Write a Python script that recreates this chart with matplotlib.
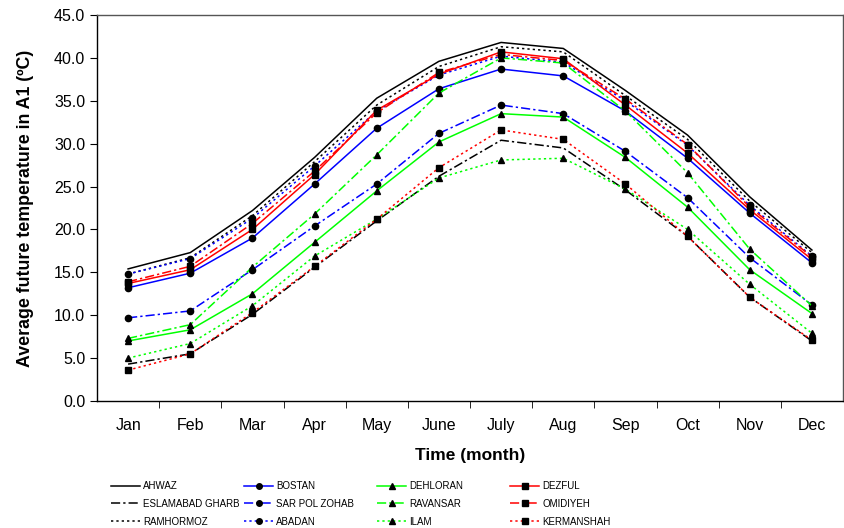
#!/usr/bin/env python3
import matplotlib
matplotlib.use("Agg")
import matplotlib.pyplot as plt
from matplotlib.lines import Line2D

plt.rcParams['font.family'] = ['Liberation Sans', 'DejaVu Sans']

months = ["Jan", "Feb", "Mar", "Apr", "May", "June", "July", "Aug", "Sep", "Oct", "Nov", "Dec"]

# Average future temperature (A1 scenario)
ahwaz = [15.4, 17.3, 22.2, 28.4, 35.3, 39.6, 41.8, 41.1, 36.2, 31.0, 23.8, 17.6]
bostan = [13.2, 14.9, 19.0, 25.3, 31.8, 36.4, 38.7, 37.9, 33.8, 28.3, 21.9, 16.1]
dehloran = [7.0, 8.3, 12.5, 18.5, 24.5, 30.2, 33.5, 33.1, 28.4, 22.6, 15.3, 10.2]
dezful = [13.7, 15.3, 20.0, 26.4, 33.9, 38.1, 40.7, 39.9, 34.5, 28.9, 22.3, 16.5]
eslamabad = [4.3, 5.5, 10.1, 15.6, 21.0, 26.2, 30.4, 29.5, 24.6, 19.2, 12.1, 7.0]
sarpol = [9.7, 10.5, 15.3, 20.4, 25.3, 31.2, 34.5, 33.5, 29.1, 23.7, 16.7, 11.2]
ravansar = [7.3, 8.9, 15.6, 21.8, 28.7, 35.9, 40.0, 39.4, 33.8, 26.6, 17.7, 11.1]
omidiyeh = [13.9, 15.7, 20.7, 26.8, 33.6, 38.3, 40.4, 39.7, 35.2, 29.9, 22.6, 16.8]
ramhormoz = [14.8, 16.7, 21.6, 27.9, 34.5, 39.0, 41.3, 40.7, 35.6, 30.5, 23.3, 17.3]
abadan = [14.8, 16.6, 21.3, 27.4, 33.8, 38.0, 40.2, 39.5, 35.0, 29.8, 22.8, 16.9]
ilam = [5.0, 6.7, 11.1, 16.9, 21.2, 26.0, 28.1, 28.3, 24.7, 20.0, 13.6, 7.9]
kermanshah = [3.6, 5.5, 10.3, 15.7, 21.2, 27.2, 31.6, 30.5, 25.3, 19.2, 12.1, 7.1]

dashdot = (0, (6, 2, 1.5, 2))
dotted = (0, (1.5, 2))

# name, values, color, linestyle, marker
series = [
    ("AHWAZ", ahwaz, "black", "-", None),
    ("ESLAMABAD GHARB", eslamabad, "black", dashdot, None),
    ("RAMHORMOZ", ramhormoz, "black", dotted, None),
    ("BOSTAN", bostan, "blue", "-", "o"),
    ("SAR POL ZOHAB", sarpol, "blue", dashdot, "o"),
    ("ABADAN", abadan, "blue", dotted, "o"),
    ("DEHLORAN", dehloran, "#00ff00", "-", "^"),
    ("RAVANSAR", ravansar, "#00ff00", dashdot, "^"),
    ("ILAM", ilam, "#00ff00", dotted, "^"),
    ("DEZFUL", dezful, "red", "-", "s"),
    ("OMIDIYEH", omidiyeh, "red", dashdot, "s"),
    ("KERMANSHAH", kermanshah, "red", dotted, "s"),
]

fig = plt.figure(figsize=(8.45, 5.28), dpi=100)
ax = fig.add_axes([97 / 845, 1 - 401 / 528, (843 - 97) / 845, (401 - 15) / 528])

x = list(range(len(months)))
handles = []
for name, vals, color, ls, mk in series:
    ax.plot(x, vals, color=color, linestyle=ls, linewidth=1.1)
    if mk:
        ax.plot(x, vals, linestyle="none", marker=mk, markersize=4.5,
                markerfacecolor="black", markeredgecolor="black")
    handles.append(Line2D([], [], color=color, linestyle=ls, linewidth=1.1,
                          marker=mk, markersize=4, markerfacecolor="black",
                          markeredgecolor="black"))

ax.set_xlim(-0.5, 11.5)
ax.set_ylim(0, 45)
ax.set_yticks([i * 5 for i in range(10)])
ax.set_yticklabels([f"{i * 5:.1f}" for i in range(10)])
ax.set_xticks(x)
ax.set_xticklabels(months)
ax.set_xticks([i + 0.5 for i in range(11)], minor=True)
ax.tick_params(axis="x", which="major", length=0, pad=12, labelsize=11.5)
ax.tick_params(axis="x", which="minor", length=5, direction="out")
ax.tick_params(axis="y", length=5, direction="out", labelsize=11.5)
for sp in ax.spines.values():
    sp.set_linewidth(1.0)
ax.spines["top"].set_color("#555555")
ax.spines["right"].set_color("#555555")

ax.set_xlabel("Time (month)", fontsize=12.5, fontweight="bold", labelpad=11)
ax.set_ylabel("Average future temperature in A1 (ºC)", fontsize=12.8,
              fontweight="bold", labelpad=14)

# legend: four columns placed separately so they line up like the original
col_x = [111, 244, 377, 510]
for c in range(4):
    hs = handles[c * 3:(c + 1) * 3]
    ls = [s[0] for s in series[c * 3:(c + 1) * 3]]
    fig.legend(hs, ls, loc="upper left", bbox_to_anchor=(col_x[c] / 845, 1 - 481 / 528),
               frameon=False, borderpad=0, borderaxespad=0, fontsize=7,
               handlelength=3.0, handletextpad=0.3, labelspacing=0.8)

fig.savefig("out.png", dpi=100)
